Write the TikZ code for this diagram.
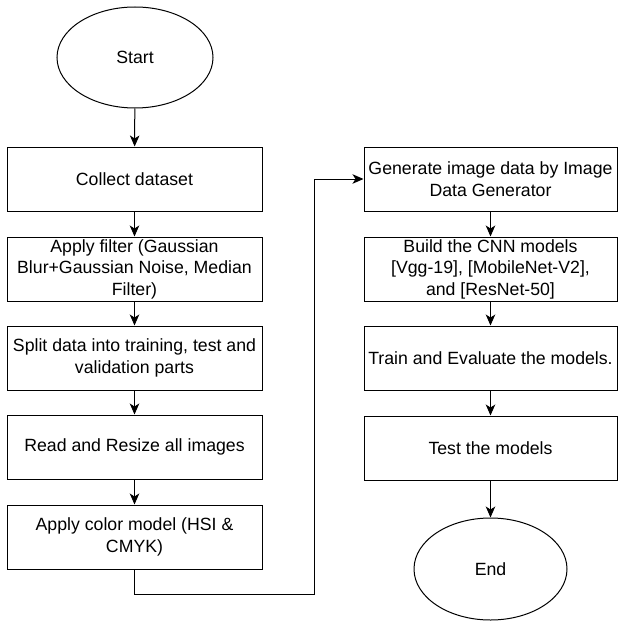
\documentclass[tikz,border=0pt]{standalone}
\usepackage{fontspec}
\setmainfont{Liberation Sans}
\usetikzlibrary{shapes.geometric,arrows.meta}
\begin{document}
\begin{tikzpicture}[x=1pt,y=-1pt,
  every node/.style={font=\fontsize{17.7}{21.5}\selectfont, text=black, align=center, inner sep=0pt},
  procbox/.style={draw, line width=1pt, fill=white, rectangle, minimum height=64pt},
  lbox/.style={procbox, minimum width=255pt},
  rbox/.style={procbox, minimum width=253pt},
  terminal/.style={draw, line width=1pt, fill=white, ellipse},
  arr/.style={draw, line width=1pt, -{Stealth[length=11pt,width=9.5pt,inset=3pt]}}
]
\useasboundingbox (0,0) rectangle (618,623);
\node[terminal, minimum width=156pt, minimum height=101pt] (start) at (135,57.5) {Start};
\node[lbox] (b1) at (134.5,179) {Collect dataset};
\node[lbox] (b2) at (134.5,269) {Apply filter (Gaussian\\Blur+Gaussian Noise, Median\\Filter)};
\node[lbox] (b3) at (134.5,358) {Split data into training, test and\\validation parts};
\node[lbox] (b4) at (134.5,447) {Read and Resize all images};
\node[lbox] (b5) at (134.5,537) {Apply color model (HSI \&\\CMYK)};
\node[rbox] (r1) at (490.5,179) {Generate image data by Image\\Data Generator};
\node[rbox] (r2) at (490.5,269) {Build the CNN models\\{[Vgg-19]}, [MobileNet-V2],\\and [ResNet-50]};
\node[rbox] (r3) at (490.5,358) {Train and Evaluate the models.};
\node[rbox] (r4) at (490.5,448) {Test the models};
\node[terminal, minimum width=153pt, minimum height=102pt] (end) at (490.5,569) {End};
\coordinate (c1) at (134.5,594);
\coordinate (c2) at (314,594);
\draw[arr] (start) -- (b1);
\draw[arr] (b1) -- (b2);
\draw[arr] (b2) -- (b3);
\draw[arr] (b3) -- (b4);
\draw[arr] (b4) -- (b5);
\draw[arr] (b5.south) -- (c1) -- (c2) |- (r1.west);
\draw[arr] (r1) -- (r2);
\draw[arr] (r2) -- (r3);
\draw[arr] (r3) -- (r4);
\draw[arr] (r4) -- (end);
\end{tikzpicture}
\end{document}
